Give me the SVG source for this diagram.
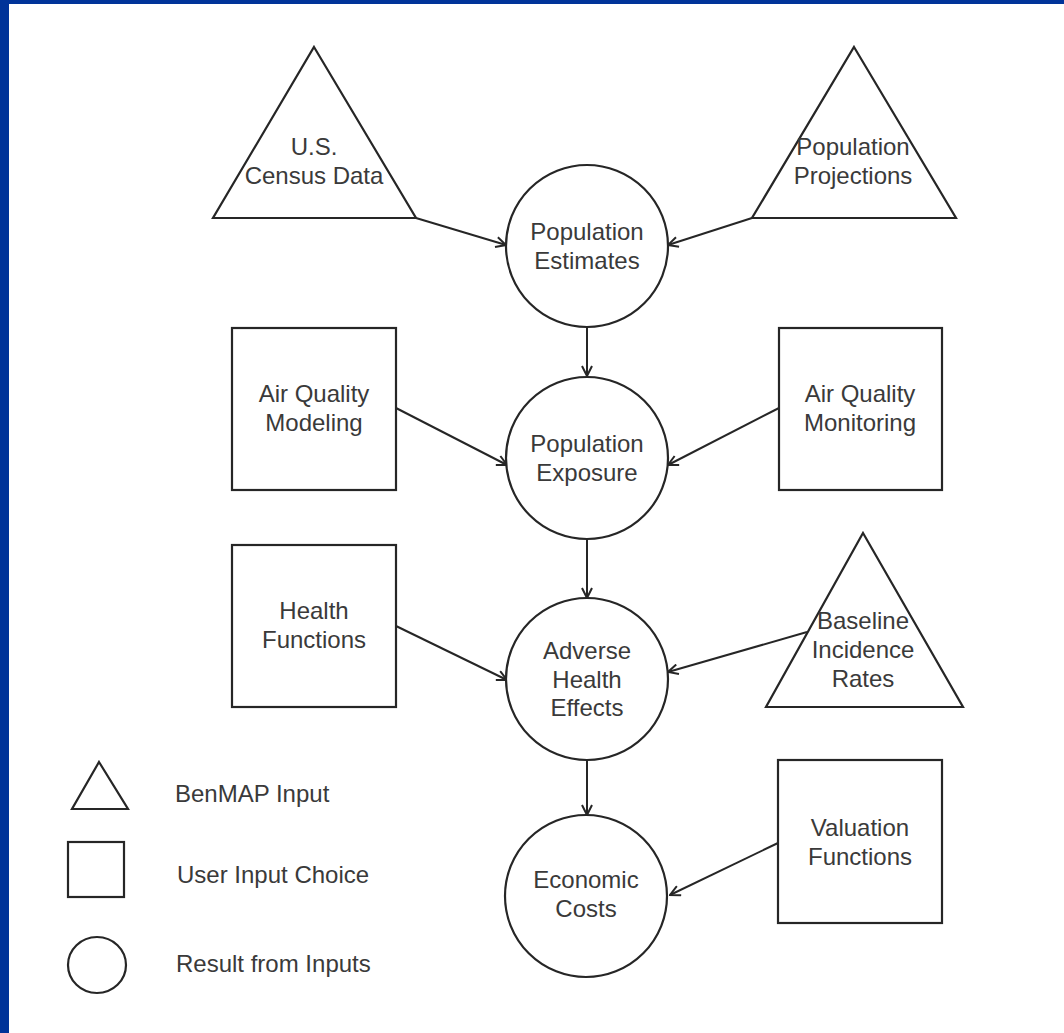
<svg xmlns="http://www.w3.org/2000/svg" width="1064" height="1033" viewBox="0 0 1064 1033">
<defs>
<style>
.s{fill:#fff;stroke:#262626;stroke-width:2.2}
.t{font-family:"Liberation Sans",Arial,sans-serif;font-size:24px;fill:#3a3a3a;text-anchor:middle}
.l{font-family:"Liberation Sans",Arial,sans-serif;font-size:24px;fill:#3a3a3a}
.c{stroke:#262626;stroke-width:2;fill:none;marker-end:url(#a)}
</style>
<marker id="a" viewBox="0 0 12 12" refX="11" refY="6" markerWidth="12" markerHeight="12" markerUnits="userSpaceOnUse" orient="auto">
<path d="M1,1 L11,6 L1,11" fill="none" stroke="#262626" stroke-width="2"/>
</marker>
</defs>
<rect x="0" y="0" width="1064" height="1033" fill="#fff"/>
<rect x="0" y="0" width="1064" height="4" fill="#003399"/>
<rect x="0" y="0" width="9" height="1033" fill="#003399"/>

<g id="connectors">
<line class="c" x1="416" y1="218" x2="506" y2="245"/>
<line class="c" x1="752" y1="218" x2="668" y2="245"/>
<line class="c" x1="587" y1="327" x2="587" y2="376"/>
<line class="c" x1="396" y1="408" x2="507" y2="465"/>
<line class="c" x1="779" y1="408" x2="668" y2="465"/>
<line class="c" x1="587" y1="540" x2="587" y2="598"/>
<line class="c" x1="396" y1="626" x2="507" y2="680"/>
<line class="c" x1="807" y1="632" x2="668" y2="672"/>
<line class="c" x1="587" y1="760" x2="587" y2="815"/>
<line class="c" x1="778" y1="843" x2="670" y2="895"/>
</g>

<g id="census">
<polygon class="s" points="314,47 416,218 213,218"/>
<text class="t" x="314" y="155">U.S.</text>
<text class="t" x="314" y="184">Census Data</text>
</g>
<g id="projections">
<polygon class="s" points="854,47 956,218 752,218"/>
<text class="t" x="853" y="155">Population</text>
<text class="t" x="853" y="184">Projections</text>
</g>
<g id="estimates">
<circle class="s" cx="587" cy="246" r="81"/>
<text class="t" x="587" y="240">Population</text>
<text class="t" x="587" y="269">Estimates</text>
</g>
<g id="modeling">
<rect class="s" x="232" y="328" width="164" height="162"/>
<text class="t" x="314" y="402">Air Quality</text>
<text class="t" x="314" y="431">Modeling</text>
</g>
<g id="monitoring">
<rect class="s" x="779" y="328" width="163" height="162"/>
<text class="t" x="860" y="402">Air Quality</text>
<text class="t" x="860" y="431">Monitoring</text>
</g>
<g id="exposure">
<circle class="s" cx="587" cy="458" r="81"/>
<text class="t" x="587" y="452">Population</text>
<text class="t" x="587" y="481">Exposure</text>
</g>
<g id="health">
<rect class="s" x="232" y="545" width="164" height="162"/>
<text class="t" x="314" y="619">Health</text>
<text class="t" x="314" y="648">Functions</text>
</g>
<g id="baseline">
<polygon class="s" points="863,533 963,707 766,707"/>
<text class="t" x="863" y="629">Baseline</text>
<text class="t" x="863" y="658">Incidence</text>
<text class="t" x="863" y="687">Rates</text>
</g>
<g id="adverse">
<circle class="s" cx="587" cy="679" r="81"/>
<text class="t" x="587" y="659">Adverse</text>
<text class="t" x="587" y="688">Health</text>
<text class="t" x="587" y="716">Effects</text>
</g>
<g id="valuation">
<rect class="s" x="778" y="760" width="164" height="163"/>
<text class="t" x="860" y="836">Valuation</text>
<text class="t" x="860" y="865">Functions</text>
</g>
<g id="economic">
<circle class="s" cx="586" cy="896" r="81"/>
<text class="t" x="586" y="888">Economic</text>
<text class="t" x="586" y="917">Costs</text>
</g>

<g id="legend">
<polygon class="s" points="99,762 128,809 72,809"/>
<text class="l" x="175" y="802">BenMAP Input</text>
<rect class="s" x="68" y="842" width="56" height="55"/>
<text class="l" x="177" y="883">User Input Choice</text>
<ellipse class="s" cx="97" cy="965" rx="29" ry="28"/>
<text class="l" x="176" y="972">Result from Inputs</text>
</g>
</svg>
